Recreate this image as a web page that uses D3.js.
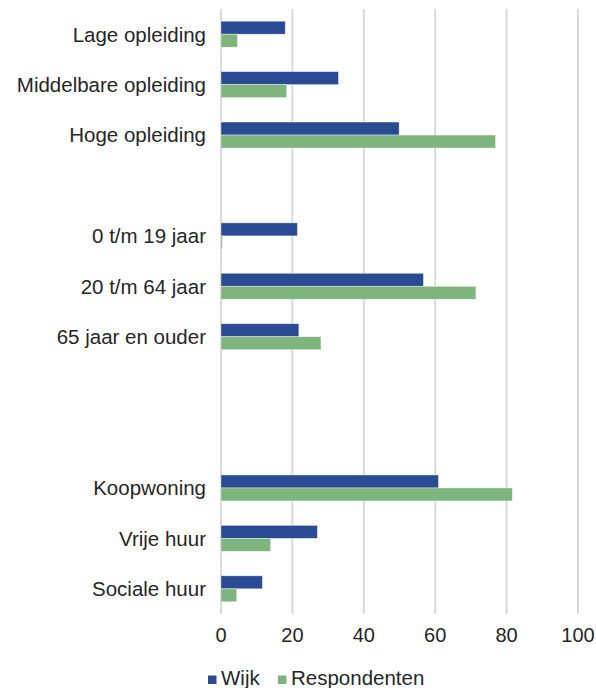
<!DOCTYPE html>
<html>
<head>
<meta charset="utf-8">
<script src="https://cdn.jsdelivr.net/npm/d3@7"></script>
<style>
  body { margin: 0; background: #fff; }
  svg { display: block; font-family: "Liberation Sans", Arial, sans-serif; }
</style>
</head>
<body>
<svg id="chart" width="596" height="688"></svg>
<script>
// Empty strings are blank slots between the groups
const categories = ["Lage opleiding", "Middelbare opleiding", "Hoge opleiding", "",
    "0 t/m 19 jaar", "20 t/m 64 jaar", "65 jaar en ouder", "", "",
    "Koopwoning", "Vrije huur", "Sociale huur"];
const wijk = [18.0, 32.9, 49.9, null, 21.4, 56.7, 21.8, null, null, 60.9, 27.0, 11.6];
const respondenten = [4.6, 18.4, 76.9, null, 0.4, 71.4, 28.0, null, null, 81.6, 13.9, 4.4];
const series = ["Wijk", "Respondenten"];
const xTicks = [0, 20, 40, 60, 80, 100];

const colors = { "Wijk": "#2a4a94", "Respondenten": "#7eb57d" };
const textColor = "#262626";

const svg = d3.select("#chart");

const x = d3.scaleLinear().domain([0, 100]).range([221, 578]);
const y = d3.scaleBand().domain(d3.range(categories.length)).range([9, 614]).padding(0);
const inner = d3.scaleBand().domain(series).range([0, y.bandwidth()])
    .paddingInner(0).paddingOuter(0.94);

// gridlines
svg.append("g")
    .selectAll("line")
    .data(xTicks)
    .join("line")
    .attr("x1", d => x(d))
    .attr("x2", d => x(d))
    .attr("y1", 9)
    .attr("y2", 614)
    .attr("stroke", "#d9d9d9")
    .attr("stroke-width", 2);

// bars
const rows = categories.map((c, i) => ({ i, name: c, values: { "Wijk": wijk[i], "Respondenten": respondenten[i] } }));

const groups = svg.append("g")
    .selectAll("g")
    .data(rows.filter(r => r.name !== ""))
    .join("g")
    .attr("transform", d => `translate(0,${y(d.i)})`);

groups.selectAll("rect")
    .data(d => series.map(s => ({ s, v: d.values[s] })))
    .join("rect")
    .attr("x", x(0))
    .attr("y", d => inner(d.s))
    .attr("width", d => x(d.v) - x(0))
    .attr("height", inner.bandwidth())
    .attr("fill", d => colors[d.s])
    .attr("stroke", "#ffffff")
    .attr("stroke-opacity", 0.5)
    .attr("stroke-width", 0.75);

// category labels
svg.append("g")
    .selectAll("text")
    .data(rows.filter(r => r.name !== ""))
    .join("text")
    .attr("x", 206)
    .attr("y", d => y(d.i) + y.bandwidth() / 2)
    .attr("dy", "0.36em")
    .attr("text-anchor", "end")
    .attr("font-size", "20.5px")
    .attr("fill", textColor)
    .text(d => d.name);

// x tick labels
svg.append("g")
    .selectAll("text")
    .data(xTicks)
    .join("text")
    .attr("x", d => x(d))
    .attr("y", 641.5)
    .attr("text-anchor", "middle")
    .attr("font-size", "20px")
    .attr("fill", textColor)
    .text(d => d);

// legend
const legendX = [208, 278];
const legend = svg.append("g")
    .selectAll("g")
    .data(series)
    .join("g")
    .attr("transform", (d, i) => `translate(${legendX[i]},0)`);

legend.append("rect")
    .attr("x", 0)
    .attr("y", 675.5)
    .attr("width", 8.5)
    .attr("height", 8.5)
    .attr("fill", d => colors[d]);

legend.append("text")
    .attr("x", 13)
    .attr("y", 685)
    .attr("font-size", "20.5px")
    .attr("fill", textColor)
    .text(d => d);
</script>
</body>
</html>
